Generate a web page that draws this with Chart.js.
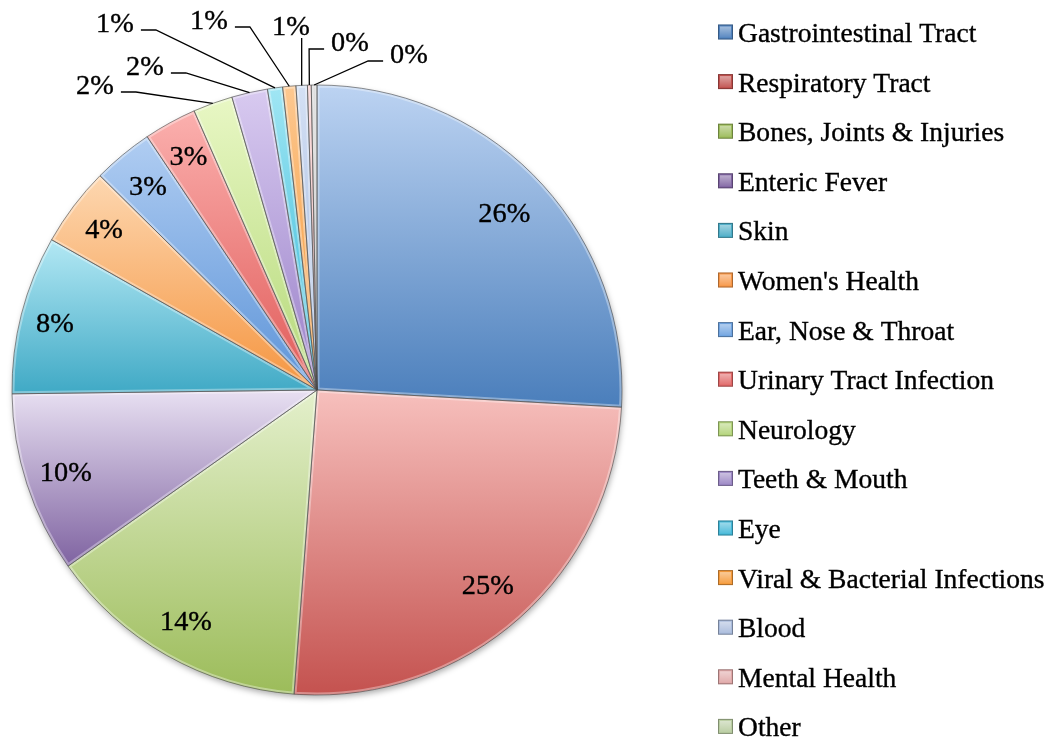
<!DOCTYPE html>
<html><head><meta charset="utf-8">
<script src="https://cdn.jsdelivr.net/npm/chart.js@4/dist/chart.umd.min.js"></script>
<style>html,body{margin:0;padding:0;background:#fff}#wrap{width:1049px;height:738px;position:relative}</style>
</head><body><div id="wrap"><canvas id="c"></canvas></div>
<script>
const categories = ["Gastrointestinal Tract","Respiratory Tract","Bones, Joints & Injuries","Enteric Fever","Skin","Women's Health","Ear, Nose & Throat","Urinary Tract Infection","Neurology","Teeth & Mouth","Eye","Viral & Bacterial Infections","Blood","Mental Health","Other"];
const shares = [25.9, 25.3, 14.0, 9.6, 8.4, 4.2, 3.2, 2.8, 2.1, 1.9, 0.8, 0.7, 0.6, 0.2, 0.3];

// styles (top light / bottom dark of each slice gradient, legend swatch)
const sliceTop = ['#bcd3f2','#f7c0bd','#e4f0cc','#e8e0f2','#b3e8f4','#fdd7b0','#b0cdf2','#fbb0ae','#e8f7c4','#d8caf0','#a0e6f4','#fdc890','#d4e0f4','#f9cccc','#dadada'];
const sliceBottom = ['#4a7ebb','#c4524f','#9cbc5a','#7f63a1','#3fa9c5','#f59540','#5d94d8','#e05a58','#b4d878','#9980c8','#30b6d6','#f29432','#9db4dc','#e29a9a','#a8a8a8'];
const legendColors = ['#4f81bd','#c0504d','#9bbb59','#8064a2','#4bacc6','#f79646','#6fa3e0','#e06666','#b3d47a','#9b86c4','#44b8d8','#f59a3a','#a9bbdc','#e0a8a8','#b8cca0'];

const total = shares.reduce((a,b)=>a+b,0);
const percentLabels = shares.map(v => Math.round(v/total*100) + '%');

const FONT = '"Liberation Serif", "DejaVu Serif", serif';
const FS = 27;

function sText(ctx, t, x, y, align, xs){
  ctx.save();
  ctx.translate(x, y);
  ctx.scale(xs, 1);
  ctx.textAlign = align || 'center';
  ctx.lineWidth = 0.35; ctx.strokeStyle = '#000';
  ctx.fillText(t, 0, 0);
  ctx.strokeText(t, 0, 0);
  ctx.restore();
}

function sliceGradient(context){
  const chart = context.chart;
  const ca = chart.chartArea;
  const i = context.dataIndex;
  if (!ca) return sliceBottom[i];
  const cx = (ca.left+ca.right)/2, cy = (ca.top+ca.bottom)/2;
  const r = (Math.min(ca.right-ca.left, ca.bottom-ca.top)-1)/2;
  let cum = 0; for (let k=0;k<i;k++) cum += shares[k];
  const a0 = -Math.PI/2 + cum/total*2*Math.PI;
  const a1 = a0 + shares[i]/total*2*Math.PI;
  let ys = [cy, cy+r*Math.sin(a0), cy+r*Math.sin(a1)];
  for (const a of [-Math.PI/2, Math.PI/2, 3*Math.PI/2]) { if (a>=a0 && a<=a1) ys.push(cy+r*Math.sin(a)); }
  const y0 = Math.min(...ys), y1 = Math.max(...ys);
  const g = chart.ctx.createLinearGradient(0, y0, 0, y1 + 0.01);
  g.addColorStop(0, sliceTop[i]);
  g.addColorStop(1, sliceBottom[i]);
  return g;
}

const decor = {
  id: 'decor',
  beforeDatasetsDraw(chart){
    const ctx = chart.ctx, ca = chart.chartArea;
    const cx = (ca.left+ca.right)/2, cy = (ca.top+ca.bottom)/2;
    const r = (Math.min(ca.right-ca.left, ca.bottom-ca.top)-1)/2;
    ctx.save();
    ctx.shadowColor = 'rgba(0,0,0,0.35)';
    ctx.shadowBlur = 6; ctx.shadowOffsetX = 1; ctx.shadowOffsetY = 3;
    ctx.beginPath(); ctx.arc(cx, cy, r, 0, Math.PI*2); ctx.fillStyle = '#fff'; ctx.fill();
    ctx.restore();
  },
  afterDatasetsDraw(chart, args, opts){
    const ctx = chart.ctx;
    const meta = chart.getDatasetMeta(0);
    meta.data.forEach(arc => {
      const p = arc.getProps(['x','y','startAngle','endAngle','outerRadius'], true);
      ctx.save();
      ctx.beginPath(); ctx.moveTo(p.x,p.y); ctx.arc(p.x,p.y,p.outerRadius,p.startAngle,p.endAngle); ctx.closePath();
      ctx.clip();
      ctx.lineWidth = 5; ctx.strokeStyle = 'rgba(255,255,255,0.35)'; ctx.stroke();
      ctx.restore();
      ctx.save();
      ctx.beginPath(); ctx.moveTo(p.x,p.y); ctx.arc(p.x,p.y,p.outerRadius,p.startAngle,p.endAngle); ctx.closePath();
      ctx.lineWidth = 0.8; ctx.strokeStyle = 'rgba(70,70,70,0.75)'; ctx.stroke();
      ctx.restore();
    });
    ctx.save();
    ctx.font = FS + 'px ' + FONT;
    ctx.fillStyle = '#000';
    ctx.textBaseline = 'alphabetic';
    const XL = opts.labelScale;
    meta.data.forEach((arc, i) => {
      const p = arc.getProps(['x','y','startAngle','endAngle','outerRadius'], true);
      const mid = (p.startAngle + p.endAngle)/2;
      const R = p.outerRadius;
      const t = percentLabels[i];
      if (i < opts.insideRadius.length) {
        const rr = R * opts.insideRadius[i];
        sText(ctx, t, p.x + rr*Math.cos(mid), p.y + rr*Math.sin(mid) + 9, 'center', XL);
      } else {
        const o = opts.outside[i - opts.insideRadius.length];
        const s = R/305;
        const tx = p.x + o[0]*s, ty = p.y + o[1]*s;
        sText(ctx, t, tx, ty + 9, 'center', XL);
        const ax = p.x + R*Math.cos(mid), ay = p.y + R*Math.sin(mid);
        const w = ctx.measureText(t).width * XL;
        ctx.save();
        ctx.strokeStyle = '#000'; ctx.lineWidth = 1.3;
        ctx.beginPath();
        if (Math.abs(tx - ax) < 15) {
          ctx.moveTo(ax, ty + 12); ctx.lineTo(ax, ay);
        } else {
          const dir = tx < ax ? 1 : -1;
          const sx = tx + dir*(w/2 + 7), sy = ty + 7;
          ctx.moveTo(sx, sy); ctx.lineTo(sx + dir*15, sy); ctx.lineTo(ax, ay);
        }
        ctx.stroke();
        ctx.restore();
      }
    });
    ctx.restore();
  },
  afterDraw(chart, args, opts){
    const ctx = chart.ctx;
    ctx.save();
    ctx.font = FS + 'px ' + FONT;
    ctx.fillStyle = '#000';
    categories.forEach((c, i) => {
      const yc = opts.legendTop + i*opts.legendStep;
      const bx = opts.legendX, by = yc - 8.5, bs = 15;
      const g = ctx.createLinearGradient(0, by, 0, by+bs);
      g.addColorStop(0, 'rgba(255,255,255,0.55)');
      g.addColorStop(1, 'rgba(255,255,255,0)');
      ctx.fillStyle = legendColors[i];
      ctx.fillRect(bx, by, bs, bs);
      ctx.fillStyle = g;
      ctx.fillRect(bx+2, by+2, bs-4, bs-4);
      ctx.strokeStyle = 'rgba(0,0,0,0.3)'; ctx.lineWidth = 1;
      ctx.strokeRect(bx+0.5, by+0.5, bs-1, bs-1);
      ctx.fillStyle = '#000';
      sText(ctx, c, bx + 20, yc + 9, 'left', opts.legendScale);
    });
    ctx.restore();
  }
};

new Chart(document.getElementById('c'), {
  type: 'pie',
  data: {
    labels: categories,
    datasets: [{
      data: shares,
      backgroundColor: sliceGradient,
      borderWidth: 0,
      hoverOffset: 0,
      offset: 0
    }]
  },
  options: {
    responsive: true,
    maintainAspectRatio: false,
    animation: false,
    events: [],
    layout: { padding: { left: 12, right: 427, top: 85, bottom: 43 } },
    plugins: {
      legend: { display: false },
      tooltip: { enabled: false },
      decor: {
        insideRadius: [0.845, 0.85, 0.872, 0.866, 0.887, 0.875, 0.87, 0.875],
        outside: [[-222,-305],[-172,-324],[-202,-367],[-108,-370],[-26,-364],[33,-348],[92,-336]],
        legendX: 718, legendTop: 33, legendStep: 49.6,
        legendScale: 1.02, labelScale: 1.05
      }
    }
  },
  plugins: [decor]
});
</script>
</body></html>
